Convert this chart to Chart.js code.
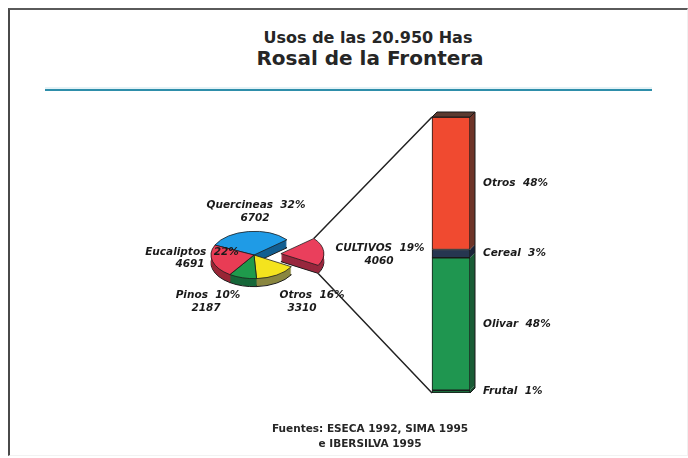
<!DOCTYPE html>
<html>
<head>
<meta charset="utf-8">
<script src="https://cdn.jsdelivr.net/npm/chart.js@4/dist/chart.umd.min.js"></script>
<style>
  html, body { margin: 0; padding: 0; background: #fff; }
  body { width: 688px; height: 458px; position: relative; overflow: hidden; font-family: "DejaVu Sans", sans-serif; }
  #frame { position: absolute; left: 8px; top: 8px; width: 680px; height: 448px;
           border-left: 2px solid #4a4a4a; border-top: 2px solid #5a5a5a;
           border-right: 1px solid #f0f0f0; border-bottom: 1px solid #f2f2f2; box-sizing: border-box; }
  .ttl { position: absolute; white-space: nowrap; transform: translateX(-50%); font-weight: bold; color: #262626; }
  #t1 { left: 368px; top: 30px; font-size: 16px; line-height: 16px; }
  #t2 { left: 370px; top: 48px; font-size: 20px; line-height: 20px; }
  #rule { position: absolute; left: 45px; top: 89px; width: 607px; height: 2px; background: #2e8eaa;
          box-shadow: 0 -2px 0 #e4f2f6; }
  canvas { position: absolute; left: 0; top: 0; }
  .src { position: absolute; white-space: nowrap; transform: translateX(-50%); font-weight: bold; font-size: 10.5px; line-height: 11px; color: #262626; }
  #s1 { left: 370px; top: 423px; }
  #s2 { left: 370px; top: 438px; }
</style>
</head>
<body>
<div id="frame"></div>
<div class="ttl" id="t1">Usos de las 20.950 Has</div>
<div class="ttl" id="t2">Rosal de la Frontera</div>
<div id="rule"></div>
<canvas id="pie" width="688" height="458"></canvas>
<canvas id="bar" width="688" height="458"></canvas>
<div class="src" id="s1">Fuentes: ESECA 1992, SIMA 1995</div>
<div class="src" id="s2">e IBERSILVA 1995</div>
<script>
// ---------- DATA ----------
const categories = ['Quercineas', 'CULTIVOS', 'Otros', 'Pinos', 'Eucaliptos'];
const hectares = [6702, 4060, 3310, 2187, 4691];
const explodedCategory = 'CULTIVOS';
const cropCategories = ['Frutal', 'Olivar', 'Cereal', 'Otros'];
const cropShares = [1, 48, 3, 48];

// ---------- STYLE ----------
const pieColors  = ['#1f9be6', '#ea3f5c', '#f4e31e', '#1f9a4c', '#e93c55'];
const wallColors = ['#135f92', '#98283e', '#8a8740', '#17683a', '#992636'];
const barColors  = ['#1b6b3c', '#1f9650', '#263650', '#f04a30'];
const barSides   = ['#164a2c', '#1a5c36', '#1a2438', '#6e3428'];
const barTopColor = '#5b3a30';
const SY = 0.55, DEPTH = 8, EXPLODE = 27, PIE_RADIUS = 43, PIE_ROTATION = -65.2;
const BAR_DX = 5, BAR_DY = 5;
const LABEL_FONT = 'italic bold 10.5px "DejaVu Sans"';
// label line centres (line1, line2) for each pie category
const pieLabelPos = {
  Quercineas: [[256, 205], [255, 218]],
  CULTIVOS:   [[380, 248], [379, 261]],
  Otros:      [[312, 295], [302, 308]],
  Pinos:      [[208, 295], [206, 308]],
  Eucaliptos: [[192, 252], [190, 264]]
};

const total = hectares.reduce((a, b) => a + b, 0);

function arcGeom(arc, i) {
  const p = arc.getProps(['x', 'y', 'startAngle', 'endAngle', 'outerRadius']);
  let ox = 0, oy = 0;
  if (categories[i] === explodedCategory) {
    const mid = (p.startAngle + p.endAngle) / 2;
    ox = Math.cos(mid) * EXPLODE;
    oy = Math.sin(mid) * EXPLODE * SY;
  }
  return { ...p, ox, oy };
}

function wedgePath(ctx, g, dy) {
  ctx.save();
  ctx.translate(g.x + g.ox, g.y + g.oy + dy);
  ctx.scale(1, SY);
  ctx.beginPath();
  ctx.moveTo(0, 0);
  ctx.arc(0, 0, g.outerRadius, g.startAngle, g.endAngle);
  ctx.closePath();
  ctx.restore();
}

const pie3d = {
  id: 'pie3d',
  beforeDatasetsDraw(chart) {
    const ctx = chart.ctx;
    const arcs = chart.getDatasetMeta(0).data;
    const idx = arcs.map((a, i) => i);
    const groups = [idx.filter(i => categories[i] !== explodedCategory),
                    idx.filter(i => categories[i] === explodedCategory)];
    groups.forEach(group => {
      for (let d = DEPTH; d >= 1; d--) {
        group.forEach(i => {
          const g = arcGeom(arcs[i], i);
          wedgePath(ctx, g, d);
          ctx.fillStyle = wallColors[i];
          ctx.fill();
          if (d === DEPTH) { ctx.strokeStyle = '#1a1a1a'; ctx.lineWidth = 1; ctx.stroke(); }
        });
      }
      group.forEach(i => {
        const g = arcGeom(arcs[i], i);
        ctx.save();
        ctx.translate(g.ox, g.oy);
        ctx.translate(g.x, g.y);
        ctx.scale(1, SY);
        ctx.translate(-g.x, -g.y);
        arcs[i].draw(ctx);
        ctx.restore();
      });
    });
    return false;
  },
  afterDraw(chart) {
    const ctx = chart.ctx;
    ctx.save();
    ctx.font = LABEL_FONT;
    ctx.fillStyle = '#1a1a1a';
    ctx.textAlign = 'center';
    ctx.textBaseline = 'middle';
    categories.forEach((c, i) => {
      const pct = Math.round(hectares[i] / total * 100);
      const [l1, l2] = pieLabelPos[c];
      ctx.fillText(c + '  ' + pct + '%', l1[0], l1[1]);
      ctx.fillText(String(hectares[i]), l2[0], l2[1]);
    });
    ctx.restore();
  }
};

const pieChart = new Chart(document.getElementById('pie'), {
  type: 'pie',
  data: { labels: categories, datasets: [{ data: hectares, backgroundColor: pieColors, borderColor: '#1a1a1a', borderWidth: 1 }] },
  options: {
    responsive: false, animation: false, events: [],
    rotation: PIE_ROTATION, radius: PIE_RADIUS,
    layout: { padding: { left: 154, right: 334, top: 155, bottom: 103 } },
    plugins: { legend: { display: false }, tooltip: { enabled: false } }
  },
  plugins: [pie3d]
});

const bar3d = {
  id: 'bar3d',
  afterDatasetsDraw(chart) {
    const ctx = chart.ctx;
    const metas = chart.getSortedVisibleDatasetMetas();
    const geoms = metas.map(m => {
      const p = m.data[0].getProps(['x', 'y', 'base', 'width']);
      return { left: p.x - p.width / 2, right: p.x + p.width / 2,
               top: Math.min(p.y, p.base), bottom: Math.max(p.y, p.base) };
    });
    ctx.save();
    ctx.strokeStyle = '#1a1a1a';
    ctx.lineWidth = 1;
    geoms.forEach((g, i) => {
      ctx.beginPath();
      ctx.moveTo(g.right, g.top);
      ctx.lineTo(g.right + BAR_DX, g.top - BAR_DY);
      ctx.lineTo(g.right + BAR_DX, g.bottom - BAR_DY);
      ctx.lineTo(g.right, g.bottom);
      ctx.closePath();
      ctx.fillStyle = barSides[metas[i].index];
      ctx.fill();
    });
    const topG = geoms.reduce((a, b) => (b.top < a.top ? b : a));
    const botG = geoms.reduce((a, b) => (b.bottom > a.bottom ? b : a));
    ctx.beginPath();
    ctx.moveTo(topG.left, topG.top);
    ctx.lineTo(topG.left + BAR_DX, topG.top - BAR_DY);
    ctx.lineTo(topG.right + BAR_DX, topG.top - BAR_DY);
    ctx.lineTo(topG.right, topG.top);
    ctx.closePath();
    ctx.fillStyle = barTopColor;
    ctx.fill();
    ctx.stroke();
    ctx.beginPath();
    ctx.moveTo(topG.right + BAR_DX, topG.top - BAR_DY);
    ctx.lineTo(botG.right + BAR_DX, botG.bottom - BAR_DY);
    ctx.lineTo(botG.right, botG.bottom);
    ctx.stroke();

    // segment labels
    ctx.font = LABEL_FONT;
    ctx.fillStyle = '#1a1a1a';
    ctx.textAlign = 'left';
    ctx.textBaseline = 'middle';
    geoms.forEach((g, i) => {
      const k = metas[i].index;
      ctx.fillText(cropCategories[k] + '  ' + cropShares[k] + '%', g.right + 13, (g.top + g.bottom) / 2);
    });

    // connector lines from the exploded slice to the bar
    const arcs = pieChart.getDatasetMeta(0).data;
    const k = categories.indexOf(explodedCategory);
    const a = arcGeom(arcs[k], k);
    const ux = a.x + a.ox + a.outerRadius * Math.cos(a.startAngle);
    const uy = a.y + a.oy + a.outerRadius * Math.sin(a.startAngle) * SY;
    const lx = a.x + a.ox + a.outerRadius * Math.cos(a.endAngle);
    const ly = a.y + a.oy + a.outerRadius * Math.sin(a.endAngle) * SY + DEPTH;
    ctx.strokeStyle = '#222';
    ctx.lineWidth = 1.5;
    ctx.beginPath();
    ctx.moveTo(ux, uy); ctx.lineTo(topG.left, topG.top);
    ctx.moveTo(lx, ly); ctx.lineTo(botG.left, botG.bottom);
    ctx.stroke();
    ctx.restore();
  }
};

const barChart = new Chart(document.getElementById('bar'), {
  type: 'bar',
  data: {
    labels: [explodedCategory],
    datasets: cropCategories.map((c, i) => ({
      label: c, data: [cropShares[i]], backgroundColor: barColors[i],
      borderColor: '#1a1a1a', borderWidth: 1, borderSkipped: false, barThickness: 38
    }))
  },
  options: {
    responsive: false, animation: false, events: [],
    layout: { padding: { left: 411, right: 197, top: 117, bottom: 65 } },
    scales: {
      x: { stacked: true, display: false },
      y: { stacked: true, display: false, min: 0, max: 100 }
    },
    plugins: { legend: { display: false }, tooltip: { enabled: false } }
  },
  plugins: [bar3d]
});
</script>
</body>
</html>
